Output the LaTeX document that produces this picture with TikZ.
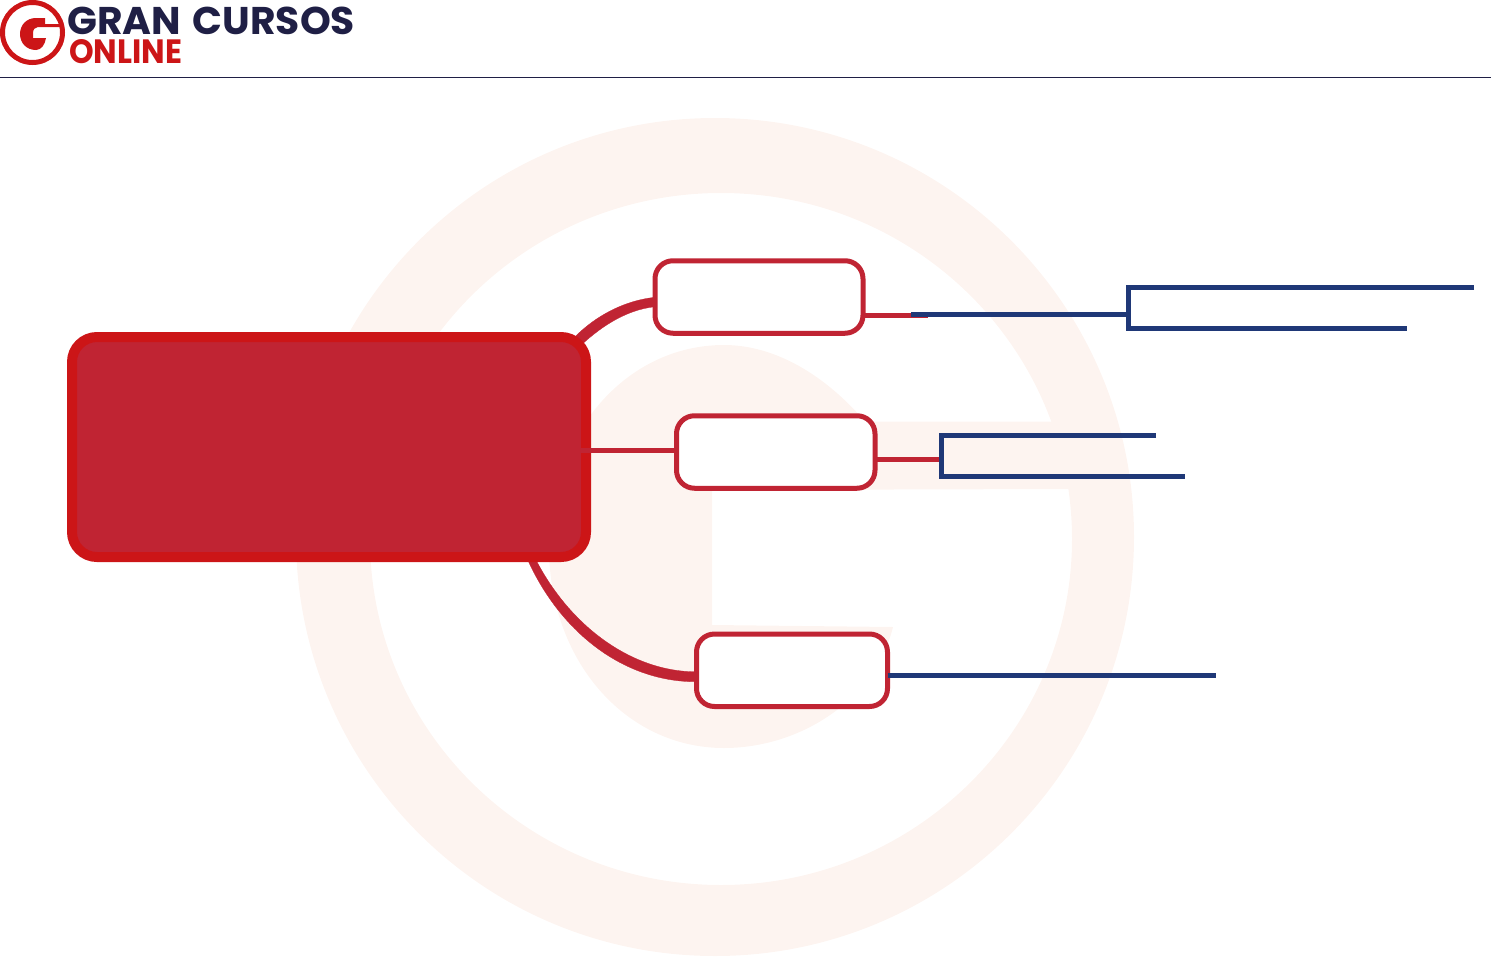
\documentclass[tikz,border=0pt]{standalone}
\usepackage{fontspec}
\usepackage{graphicx}
\setmainfont{Poppins}
\usetikzlibrary{calc}
\pgfdeclarelayer{wmlayer}
\pgfdeclarelayer{back}
\pgfsetlayers{wmlayer,back,main}
\definecolor{wm}{HTML}{FDF4F0}
\definecolor{rdA}{HTML}{C02433}
\definecolor{rdB}{HTML}{CC1517}
\definecolor{navyL}{HTML}{1F3877}
\definecolor{navyT}{HTML}{1F1F45}
\tikzset{
  x=1pt,y=-1pt,
  rootbox/.style={draw=rdB,fill=rdA,line width=10pt,rounded corners=25pt,minimum width=514pt,minimum height=220pt,outer sep=0pt,inner sep=0pt},
  topicbox/.style={draw=rdA,fill=white,line width=5pt,rounded corners=18pt,minimum height=72.5pt,outer sep=0pt,inner sep=0pt},
  thickcon/.style={draw=rdA,fill=rdA,line width=0.3pt},
  redcon/.style={draw=rdA,line width=5pt},
  bluecon/.style={draw=navyL,line width=5pt},
  logotext/.style={inner sep=0pt,outer sep=0pt,anchor=north west},
}
\begin{document}
\begin{tikzpicture}
\useasboundingbox (0,0) rectangle (1491,956);
% watermark
\begin{pgfonlayer}{wmlayer}
\fill[wm,even odd rule] (715,537) ellipse [x radius=419pt,y radius=419pt] (721,539) ellipse [x radius=351pt,y radius=346pt];
\fill[wm] (1060,421.5) -- (865,421.5) .. controls (825,375) and (775,345) .. (724,345)
  .. controls (625,345) and (549,435) .. (549,547) .. controls (549,660) and (625,748) .. (724,748)
  .. controls (800,748) and (875,700) .. (893,627) -- (712,625) -- (712,490) -- (1070,489) -- cycle;
\end{pgfonlayer}
% header rule
\coordinate (ruleL) at (0,77);
\coordinate (ruleR) at (1491,77);
\draw[navyT,line width=1pt] (ruleL) -- (ruleR);
% logo
\draw[rdB,line width=5pt] (32.5,32.5) circle (30pt);
\fill[rdB] (45,18) -- (36,18) .. controls (26.5,18) and (20,25) .. (20,34)
  .. controls (20,43) and (26.5,50) .. (36,50) .. controls (41,50) and (45,45) .. (46,38)
  -- (33,38) -- (33,33) .. controls (33,29.5) and (35,27) .. (38,27)
  -- (61,27) -- (61,24) -- (45,24) -- cycle;
\node[logotext,text=navyT] (logoA) at (67.5,7) {\resizebox{287.5pt}{27.5pt}{\bfseries GRAN\hspace{0.08em} CURSOS}};
\node[logotext,text=rdB] (logoB) at (69,39) {\resizebox{113pt}{24pt}{\bfseries ONLINE}};
% nodes
\node[rootbox] (root) at (329,447) {};
\node[topicbox,minimum width=208pt] (t1) at (759,297) {};
\node[topicbox,minimum width=198.5pt] (t2) at (775.75,452) {};
\node[topicbox,minimum width=191pt] (t3) at (792,670.25) {};
% curved tapered connectors, under the nodes
\begin{pgfonlayer}{back}
\coordinate (c1a) at (571,341);
\coordinate (c1b) at (578,348);
\coordinate (c3a) at (526,556);
\coordinate (c3b) at (533,554);
\draw[thickcon] (c1a) .. controls (590,320) and (620,301) .. ([yshift=-0.3pt]t1.west)
  -- ([yshift=-9.7pt]t1.west) .. controls (624,310) and (598,329) .. (c1b) -- cycle;
\draw[thickcon] (c3a) .. controls (558,630) and (622,682) .. ([yshift=-11.5pt]t3.west)
  -- ([yshift=-1.5pt]t3.west) .. controls (632,672) and (568,626) .. (c3b) -- cycle;
\end{pgfonlayer}
% straight connectors
\draw[redcon] ([yshift=-3pt,xshift=-5pt]root.east) -- ([yshift=2pt]t2.west);
\draw[redcon] ([yshift=-18pt]t1.east) -- ++(65,0);
\draw[redcon] ([yshift=-7pt]t2.east) -- ++(65,0);
% brackets
\coordinate (b1) at (1128,314);
\coordinate (b1a) at (1474,287);
\coordinate (b1b) at (1407,328);
\coordinate (b2) at (941,459);
\coordinate (b2a) at (1156,435);
\coordinate (b2b) at (1185,476);
\coordinate (b3) at (1216,675);
\coordinate (b0) at (911,314);
\draw[bluecon] (b0) -- (b1);
\draw[bluecon] (b1a) -- (b1 |- b1a) -- (b1 |- b1b) -- (b1b);
\draw[bluecon] (b2a) -- (b2 |- b2a) -- (b2 |- b2b) -- (b2b);
\draw[bluecon] (t3.east |- b3) -- (b3);
\end{tikzpicture}
\end{document}
